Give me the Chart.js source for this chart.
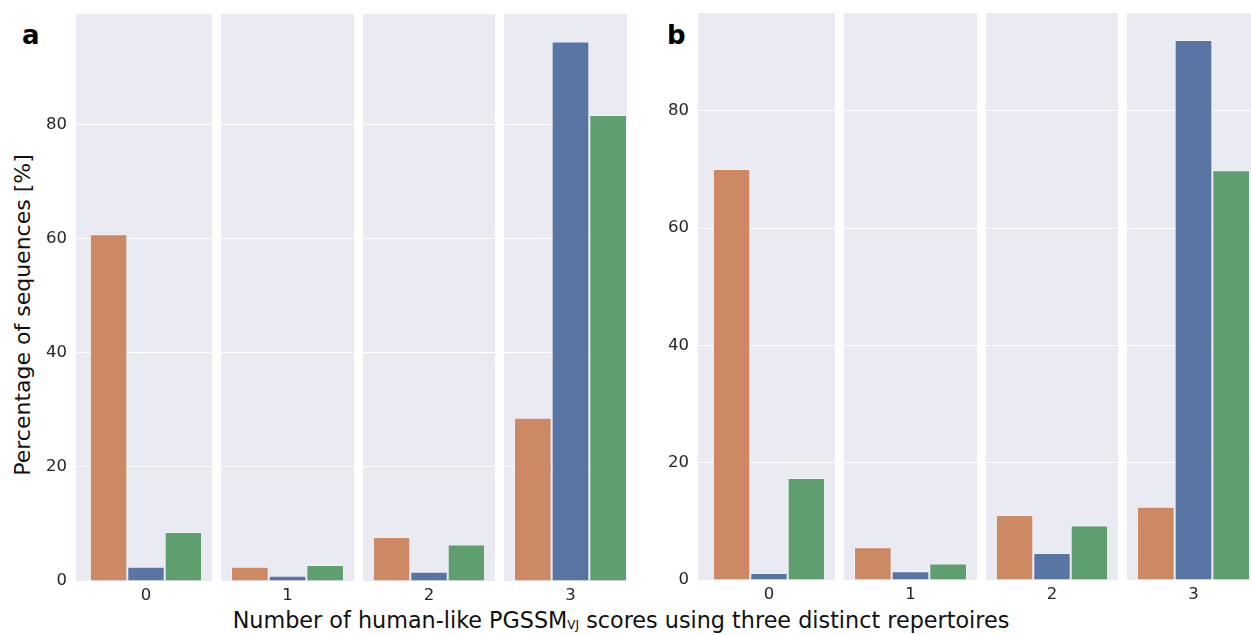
<!DOCTYPE html>
<html>
<head>
<meta charset="utf-8">
<script src="https://cdn.jsdelivr.net/npm/chart.js@4.4.1/dist/chart.umd.min.js"></script>
<style>
  html, body { margin: 0; padding: 0; background: #fff; overflow: hidden; }
  body { width: 1251px; height: 635px; position: relative; font-family: "DejaVu Sans", sans-serif; }
  .facet { position: absolute; top: 0; overflow: hidden; }
  .facet canvas { display: block; }
  .panel-tag { position: absolute; font-weight: bold; font-size: 26px; line-height: 1; color: #000; }
  .ytitle { position: absolute; left: 23px; top: 315px; transform: translate(-50%, -50%) rotate(-90deg);
            white-space: nowrap; font-size: 22px; line-height: 1; color: #111; }
  .xtitle { position: absolute; left: 621px; top: 609px; transform: translateX(-50%);
            white-space: nowrap; font-size: 22.3px; line-height: 1; color: #111; }
  .xtitle sub { font-size: 12px; vertical-align: -1px; }
</style>
</head>
<body>
<div class="panel-tag" style="left:22px;top:22px;">a</div>
<div class="panel-tag" style="left:667px;top:22px;">b</div>
<div class="ytitle">Percentage of sequences [%]</div>
<div class="xtitle">Number of human-like PGSSM<sub>VJ</sub> scores using three distinct repertoires</div>
<div id="facets"></div>

<script>
// Score categories (one facet each) and the share of sequences in every facet.
const scoreLabels = ['0', '1', '2', '3'];
const yTickValues = [0, 20, 40, 60, 80];

// panel a
const aSet1 = [60.8, 2.5, 7.7, 28.6];
const aSet2 = [2.5, 0.9, 1.6, 94.6];
const aSet3 = [8.6, 2.8, 6.4, 81.7];
const aMax = 99.4;

// panel b
const bSet1 = [70.1, 5.6, 11.1, 12.5];
const bSet2 = [1.2, 1.5, 4.6, 92.1];
const bSet3 = [17.4, 2.8, 9.3, 69.9];
const bMax = 96.7;

const setColors = ['#CC8963', '#5875A4', '#5F9E6E'];
const panelBg = '#EAEAF2';

// Fill the plotting area (optionally reaching a few px left of it) with the panel grey.
const facetBackground = {
  id: 'facetBackground',
  beforeDraw(chart, args, opts) {
    const { ctx, chartArea } = chart;
    const ext = opts.extendLeft || 0;
    ctx.save();
    ctx.fillStyle = panelBg;
    ctx.fillRect(chartArea.left - ext, chartArea.top,
                 chartArea.right - chartArea.left + ext, chartArea.bottom - chartArea.top);
    ctx.restore();
  }
};

function makeFacet(cfg) {
  const host = document.getElementById('facets');
  const wrap = document.createElement('div');
  wrap.className = 'facet';
  const canvasW = cfg.yAxisW + cfg.areaW;
  const canvasH = cfg.areaTop + cfg.areaH + cfg.xAxisH;
  wrap.style.left = (cfg.areaLeft - cfg.yAxisW) + 'px';
  wrap.style.width = (cfg.clipW ? cfg.yAxisW + cfg.clipW : canvasW) + 'px';
  wrap.style.height = canvasH + 'px';
  const canvas = document.createElement('canvas');
  canvas.width = canvasW;
  canvas.height = canvasH;
  canvas.style.width = canvasW + 'px';
  canvas.style.height = canvasH + 'px';
  wrap.appendChild(canvas);
  host.appendChild(wrap);

  const i = cfg.index;
  return new Chart(canvas, {
    type: 'bar',
    data: {
      labels: [scoreLabels[i]],
      datasets: cfg.sets.map((s, k) => ({
        data: [s[i]],
        backgroundColor: setColors[k],
        borderColor: 'rgba(255,255,255,0.45)',
        borderWidth: 1,
        categoryPercentage: 0.85,
        barPercentage: 1.0
      }))
    },
    options: {
      responsive: false,
      animation: false,
      devicePixelRatio: 1,
      layout: { autoPadding: false, padding: { top: cfg.areaTop, left: 0, right: 0, bottom: 0 } },
      plugins: {
        legend: { display: false },
        tooltip: { enabled: false },
        facetBackground: { extendLeft: cfg.extendLeft || 0 }
      },
      scales: {
        x: {
          type: 'category',
          grid: { display: false, drawTicks: false },
          border: { display: false },
          ticks: { color: '#262626', padding: 5, font: { family: 'DejaVu Sans', size: 16.5 } },
          afterFit: (s) => { s.height = cfg.xAxisH; s.paddingLeft = 0; s.paddingRight = 0; }
        },
        y: {
          min: 0,
          max: cfg.ymax,
          afterBuildTicks: (s) => { s.ticks = yTickValues.map(v => ({ value: v })); },
          grid: {
            color: '#ffffff',
            lineWidth: 1,
            drawTicks: cfg.showY,
            tickLength: cfg.extendLeft || 0,
            tickColor: '#ffffff'
          },
          border: { display: false },
          ticks: {
            display: cfg.showY,
            color: '#262626',
            padding: 9,
            font: { family: 'DejaVu Sans', size: 16.5 }
          },
          afterFit: (s) => { s.width = cfg.yAxisW; s.paddingTop = 0; s.paddingBottom = 0; }
        }
      }
    },
    plugins: [facetBackground]
  });
}

// panel a facets
const aFacets = [
  { areaLeft: 80,  areaW: 132, yAxisW: 80, showY: true, extendLeft: 4 },
  { areaLeft: 221, areaW: 133 },
  { areaLeft: 363, areaW: 132 },
  { areaLeft: 504, areaW: 133, clipW: 123 }
];
aFacets.forEach((f, i) => makeFacet(Object.assign({
  index: i, sets: [aSet1, aSet2, aSet3], ymax: aMax,
  areaTop: 14, areaH: 567, xAxisH: 30, yAxisW: 0, showY: false
}, f)));

// panel b facets
const bFacets = [
  { areaLeft: 703,  areaW: 132, yAxisW: 63, showY: true, extendLeft: 5 },
  { areaLeft: 844,  areaW: 133 },
  { areaLeft: 986,  areaW: 132 },
  { areaLeft: 1127, areaW: 133, clipW: 124 }
];
bFacets.forEach((f, i) => makeFacet(Object.assign({
  index: i, sets: [bSet1, bSet2, bSet3], ymax: bMax,
  areaTop: 13, areaH: 567, xAxisH: 30, yAxisW: 0, showY: false
}, f)));
</script>
</body>
</html>
